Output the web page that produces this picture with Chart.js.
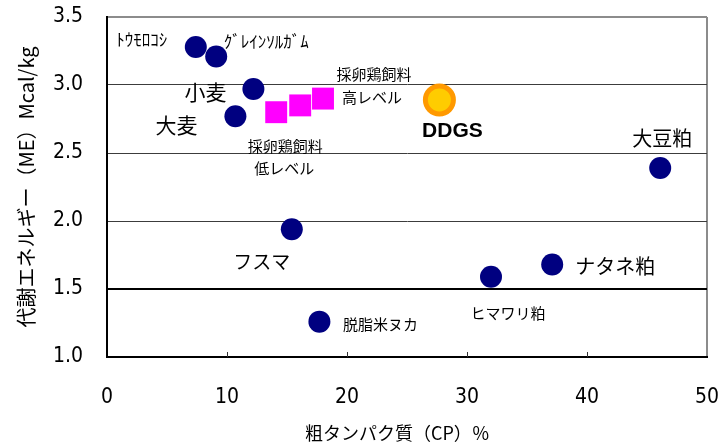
<!DOCTYPE html>
<html>
<head>
<meta charset="utf-8">
<script src="https://cdn.jsdelivr.net/npm/chart.js@4/dist/chart.umd.min.js"></script>
<style>
  html, body { margin: 0; padding: 0; background: #ffffff; }
  #wrap { width: 718px; height: 448px; }
</style>
</head>
<body>
<div id="wrap"><canvas id="chart" width="718" height="448"></canvas></div>
<script>
// Feed ingredients: crude protein (%) vs. metabolisable energy (Mcal/kg)
const feedNames = ['ﾄｳﾓﾛｺｼ', 'ｸﾞﾚｲﾝｿﾙｶﾞﾑ', '小麦', '大麦', 'フスマ', '脱脂米ヌカ', 'ヒマワリ粕', 'ナタネ粕', '大豆粕'];
const feedCP = [7.4, 9.1, 12.2, 10.7, 15.4, 17.7, 32.0, 37.1, 46.1];
const feedME = [3.28, 3.21, 2.97, 2.77, 1.94, 1.26, 1.59, 1.68, 2.39];

// Layer feed range (low → high)
const layerCP = [14.1, 16.1, 18.0];
const layerME = [2.80, 2.85, 2.90];

// DDGS
const ddgsName = 'DDGS';
const ddgsCP = [27.7];
const ddgsME = [2.89];

const xTicks = [0, 10, 20, 30, 40, 50];
const yTicks = [1.0, 1.5, 2.0, 2.5, 3.0, 3.5];

const xTitle = '粗タンパク質（CP）％';
const yTitle = '代謝エネルギー（ME）Mcal/kg';

const cjk = '"Noto Sans CJK JP", "Noto Sans", sans-serif';
const narrow = '"Liberation Sans Narrow", "DejaVu Sans Condensed", "Liberation Sans", sans-serif';

const toPoints = (xs, ys) => xs.map((x, i) => ({ x: x, y: ys[i] }));

// Text placed beside the markers: [dataset, index, text, dx, dy, font]
const markerLabels = [
  [0, 0, feedNames[0], -54, -7, '17px ' + cjk],
  [0, 1, feedNames[1], 50, -15, '17px ' + cjk],
  [0, 2, feedNames[2], -48, 3, '21px ' + cjk],
  [0, 3, feedNames[3], -59, 9, '21px ' + cjk],
  [0, 4, feedNames[4], -30, 33, '19px ' + cjk],
  [0, 5, feedNames[5], 61, 3, '15px ' + cjk],
  [0, 6, feedNames[6], 17, 37, '15px ' + cjk],
  [0, 7, feedNames[7], 63, 2, '20px ' + cjk],
  [0, 8, feedNames[8], 2, -30, '20px ' + cjk],
  [1, 2, '採卵鶏飼料', 51, -24, '15px ' + cjk],
  [1, 2, '高レベル', 49, -1, '15px ' + cjk],
  [1, 0, '採卵鶏飼料', 9, 34, '15px ' + cjk],
  [1, 0, '低レベル', 8, 56, '15px ' + cjk],
  [2, 0, ddgsName, 13, 31, 'bold 21px "Liberation Sans", Arial, sans-serif']
];

const labelPlugin = {
  id: 'markerLabels',
  afterDatasetsDraw(chart) {
    const ctx = chart.ctx;
    ctx.save();
    ctx.fillStyle = '#000000';
    ctx.textAlign = 'center';
    ctx.textBaseline = 'middle';
    markerLabels.forEach(([ds, idx, text, dx, dy, font]) => {
      const el = chart.getDatasetMeta(ds).data[idx];
      if (!el) return;
      ctx.font = font;
      ctx.fillText(text, el.x + dx, el.y + dy);
    });
    ctx.restore();
  }
};

// Short inward tick marks along the x axis, plus the x-axis caption
const axisExtras = {
  id: 'axisExtras',
  afterDraw(chart) {
    const { ctx, chartArea } = chart;
    const xs = chart.scales.x;
    ctx.save();
    ctx.strokeStyle = '#333333';
    ctx.lineWidth = 1;
    xTicks.slice(1, -1).forEach(v => {
      const px = Math.round(xs.getPixelForValue(v)) + 0.5;
      ctx.beginPath();
      ctx.moveTo(px, chartArea.bottom);
      ctx.lineTo(px, chartArea.bottom - 5);
      ctx.stroke();
    });
    ctx.fillStyle = '#000000';
    ctx.font = '18px ' + cjk;
    ctx.textAlign = 'center';
    ctx.textBaseline = 'middle';
    ctx.fillText(xTitle, xs.getPixelForValue(24.2), xs.bottom - 15);
    ctx.restore();
  }
};

new Chart(document.getElementById('chart'), {
  type: 'scatter',
  data: {
    datasets: [
      {
        label: '飼料原料',
        data: toPoints(feedCP, feedME),
        pointStyle: 'circle',
        pointRadius: 11,
        pointHoverRadius: 11,
        backgroundColor: '#000080',
        borderColor: '#000080',
        borderWidth: 0
      },
      {
        label: '採卵鶏飼料',
        data: toPoints(layerCP, layerME),
        pointStyle: 'rect',
        pointRadius: 15.5,
        pointHoverRadius: 15.5,
        backgroundColor: '#FF00FF',
        borderColor: '#FF00FF',
        borderWidth: 0
      },
      {
        label: ddgsName,
        data: toPoints(ddgsCP, ddgsME),
        pointStyle: 'circle',
        pointRadius: 14,
        pointHoverRadius: 14,
        backgroundColor: '#FFCC00',
        borderColor: '#FF9900',
        borderWidth: 5
      }
    ]
  },
  options: {
    responsive: false,
    animation: false,
    devicePixelRatio: 1,
    layout: { autoPadding: false, padding: { top: 17, right: 11, left: 0, bottom: 0 } },
    plugins: {
      legend: { display: false },
      tooltip: { enabled: false }
    },
    scales: {
      x: {
        type: 'linear',
        min: 0,
        max: 50,
        afterBuildTicks: s => { s.ticks = xTicks.map(v => ({ value: v })); },
        afterFit: s => { s.height = 91; s.paddingLeft = 0; s.paddingRight = 0; },
        ticks: {
          padding: 28,
          color: '#000000',
          font: { family: narrow, size: 21 },
          maxRotation: 0,
          autoSkip: false,
          callback: v => String(v)
        },
        grid: {
          drawTicks: false,
          color: c => (c.tick && c.tick.value === 50) ? '#8c8c8c' : 'rgba(0,0,0,0)',
          lineWidth: c => (c.tick && c.tick.value === 50) ? 2 : 1
        },
        border: { color: '#000000', width: 2 },
        title: { display: false }
      },
      y: {
        type: 'linear',
        min: 1.0,
        max: 3.5,
        afterBuildTicks: s => { s.ticks = yTicks.map(v => ({ value: v })); },
        afterFit: s => { s.width = 107; s.paddingTop = 0; s.paddingBottom = 0; },
        ticks: {
          padding: 24,
          color: '#000000',
          font: { family: narrow, size: 21 },
          callback: v => Number(v).toFixed(1)
        },
        grid: {
          drawTicks: false,
          color: c => {
            const v = c.tick ? c.tick.value : null;
            if (v === 1.0) return 'rgba(0,0,0,0)';
            if (v === 1.5) return '#000000';
            if (v === 3.5) return '#8c8c8c';
            return '#3c3c3c';
          },
          lineWidth: c => {
            const v = c.tick ? c.tick.value : null;
            return (v === 1.5 || v === 3.5) ? 2 : 1;
          }
        },
        border: { color: '#000000', width: 2 },
        title: {
          display: true,
          text: yTitle,
          color: '#000000',
          font: { family: cjk, size: 20 },
          padding: { top: 14, bottom: 0 }
        }
      }
    }
  },
  plugins: [labelPlugin, axisExtras]
});
</script>
</body>
</html>
